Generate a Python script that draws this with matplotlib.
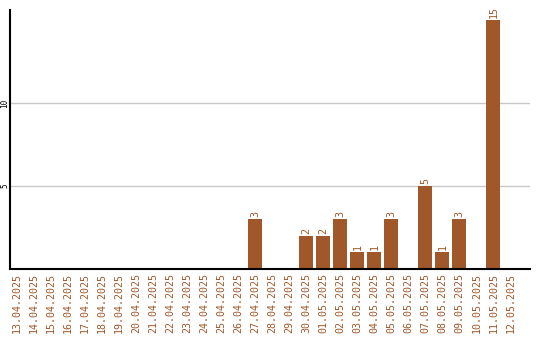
import matplotlib
matplotlib.use("Agg")
import matplotlib.pyplot as plt

dates = ["13.04.2025", "14.04.2025", "15.04.2025", "16.04.2025", "17.04.2025",
         "18.04.2025", "19.04.2025", "20.04.2025", "21.04.2025", "22.04.2025",
         "23.04.2025", "24.04.2025", "25.04.2025", "26.04.2025", "27.04.2025",
         "28.04.2025", "29.04.2025", "30.04.2025", "01.05.2025", "02.05.2025",
         "03.05.2025", "04.05.2025", "05.05.2025", "06.05.2025", "07.05.2025",
         "08.05.2025", "09.05.2025", "10.05.2025", "11.05.2025", "12.05.2025"]
counts = [0, 0, 0, 0, 0, 0, 0, 0, 0, 0, 0, 0, 0, 0, 3,
          0, 0, 2, 2, 3, 1, 1, 3, 0, 5, 1, 3, 0, 15, 0]
yticks = [5, 10]

bar_color = "#A0582A"
text_color = "#A0582A"
font = "DejaVu Sans Mono"

fig = plt.figure(figsize=(5.4, 3.4), dpi=100)
ax = fig.add_axes([10 / 540, 71 / 340, 520 / 540, 259 / 340])

x = list(range(len(dates)))
ax.bar(x, counts, width=0.82, color=bar_color, zorder=2)

for xi, v in zip(x, counts):
    if v > 0:
        ax.text(xi, v + 0.12, str(v), rotation=90, ha="center", va="bottom",
                color=text_color, fontsize=7.2, family=font)

ax.set_xlim(-0.41, 30.15)
ax.set_ylim(0, 15.6)
ax.set_xticks(x)
ax.set_xticklabels(dates, rotation=90, fontsize=7.2, family=font, color=text_color)
ax.set_yticks(yticks)
ax.set_yticklabels([str(t) for t in yticks], rotation=90, fontsize=5.5, family=font,
                   color="black", va="center", ha="right")
ax.tick_params(axis="x", length=0, pad=3)
ax.tick_params(axis="y", length=0, pad=0.6)
ax.grid(axis="y", color="#c8c8c8", linewidth=1, zorder=0)

for side in ["top", "right"]:
    ax.spines[side].set_visible(False)
for side in ["left", "bottom"]:
    ax.spines[side].set_linewidth(1.5)
    ax.spines[side].set_color("black")

fig.savefig("out.png", dpi=100)
